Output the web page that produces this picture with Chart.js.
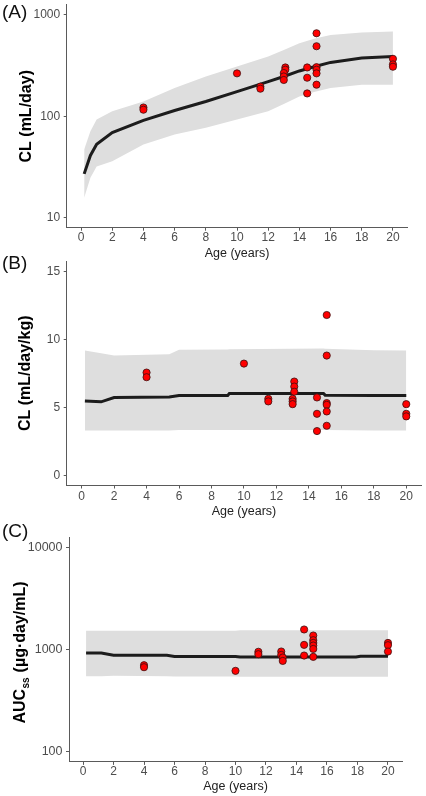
<!DOCTYPE html>
<html>
<head>
<meta charset="utf-8">
<script src="https://cdn.jsdelivr.net/npm/chart.js@4.4.1/dist/chart.umd.min.js"></script>
<style>
    body { margin: 0; background: #fff; }
    #page { position: relative; width: 426px; height: 796px; overflow: hidden; }
    .panel { position: absolute; left: 0; }
    .tag { position: absolute; left: 2px; font: 19px 'Liberation Sans', Arial, sans-serif; color: #111; }
</style>
</head>
<body>
<div id="page">
    <canvas id="chartA" class="panel" width="426" height="262" style="top:0px"></canvas>
    <canvas id="chartB" class="panel" width="426" height="270" style="top:250px"></canvas>
    <canvas id="chartC" class="panel" width="426" height="276" style="top:520px"></canvas>
    <div class="tag" style="top:1px">(A)</div>
    <div class="tag" style="top:252px">(B)</div>
    <div class="tag" style="top:520px">(C)</div>
</div>
<script>
// x ticks shared by all panels
const ageTicks = [0, 2, 4, 6, 8, 10, 12, 14, 16, 18, 20];

// (A) CL mL/day
const ageA = [0.2, 0.6, 1, 2, 4, 6, 8, 10, 12, 13, 14, 15, 16, 18, 20];
const medianA = [27, 41, 53, 69, 91, 114, 140, 175, 220, 247, 280, 310, 340, 375, 389];
const upperA = [47, 71, 93, 112, 140, 190, 247, 309, 389, 450, 525, 585, 635, 670, 685];
const lowerA = [15.7, 24.7, 32, 36, 52.5, 66, 77, 93, 112, 132, 157, 175, 190, 205, 205];
const obsAgeA = [4, 4, 10, 11.5, 11.5, 13.1, 13.1, 13, 13, 13, 14.5, 14.5, 14.5, 15.1, 15.1, 15.1, 15.1, 15.1, 15.1, 20, 20, 20];
const obsA = [122, 116, 265, 196, 187, 303, 288, 267, 247, 228, 303, 240, 168, 659, 491, 305, 288, 265, 205, 369, 325, 308];
const yTicksA = [10, 100, 1000];

// (B) CL mL/day/kg
const ageB = [0.2, 1.2, 2, 5.4, 6, 9, 9.1, 14.9, 15, 18, 20];
const medianB = [5.46, 5.40, 5.72, 5.75, 5.87, 5.87, 6.01, 6.01, 5.89, 5.87, 5.87];
const upperB = [9.17, 8.97, 8.80, 8.90, 9.22, 9.25, 9.27, 9.32, 9.30, 9.19, 9.17];
const lowerB = [3.30, 3.30, 3.30, 3.30, 3.32, 3.32, 3.32, 3.32, 3.32, 3.30, 3.30];
const obsAgeB = [4, 4, 10, 11.5, 11.5, 13.1, 13.1, 13.1, 13, 13, 13, 14.5, 14.5, 14.5, 15.1, 15.1, 15.1, 15.1, 15.1, 15.1, 20, 20, 20];
const obsB = [7.55, 7.21, 8.21, 5.62, 5.43, 6.89, 6.52, 6.14, 5.62, 5.43, 5.23, 5.72, 4.52, 3.25, 11.78, 8.80, 5.31, 5.18, 4.69, 3.64, 5.23, 4.52, 4.33];
const yTicksB = [0, 5, 10, 15];

// (C) AUCss
const ageC = [0.2, 1.2, 2, 5.5, 6, 10, 10.3, 17.9, 18.2, 20];
const medianC = [926, 926, 880, 880, 856, 856, 843, 843, 858, 858];
const upperC = [1525, 1525, 1525, 1525, 1525, 1525, 1545, 1545, 1545, 1545];
const lowerC = [548, 548, 552, 548, 545, 545, 540, 540, 540, 540];
const obsAgeC = [4, 4, 10, 11.5, 11.5, 13, 13, 13.1, 13.1, 14.5, 14.5, 14.5, 15.1, 15.1, 15.1, 15.1, 15.1, 15.1, 20, 20, 20];
const obsC = [702, 671, 618, 950, 900, 956, 885, 835, 773, 1570, 1110, 873, 1371, 1233, 1160, 1094, 1013, 847, 1160, 1102, 955];
const yTicksC = [100, 1000, 10000];

Chart.defaults.font.family = "'Liberation Sans', Arial, sans-serif";
Chart.defaults.animation = false;

const axisColor = '#5a5a5a';
const bandColor = '#dedede';

function pts(xs, ys) {
    return xs.map((x, i) => ({ x: x, y: ys[i] }));
}

// ggplot style AUC with subscript, drawn as the y title of panel C
const aucTitle = {
    id: 'aucTitle',
    afterDraw(chart) {
        const ctx = chart.ctx;
        const area = chart.chartArea;
        const big = "bold 16px 'Liberation Sans', Arial, sans-serif";
        const small = "bold 10px 'Liberation Sans', Arial, sans-serif";
        ctx.save();
        ctx.font = big;
        const w1 = ctx.measureText('AUC').width;
        const w3 = ctx.measureText(' (µg·day/mL)').width;
        ctx.font = small;
        const w2 = ctx.measureText('ss').width + 1;
        const total = w1 + w2 + w3;
        ctx.translate(21, (area.top + area.bottom) / 2 + 3);
        ctx.rotate(-Math.PI / 2);
        ctx.fillStyle = '#000';
        ctx.textBaseline = 'middle';
        ctx.textAlign = 'left';
        let x = -total / 2;
        ctx.font = big;
        ctx.fillText('AUC', x, 0);
        x += w1 + 0.5;
        ctx.font = small;
        ctx.fillText('ss', x, 5);
        x += w2 - 0.5;
        ctx.font = big;
        ctx.fillText(' (µg·day/mL)', x, 0);
        ctx.restore();
    }
};

function makePanel(id, cfg) {
    const ctx = document.getElementById(id).getContext('2d');
    return new Chart(ctx, {
        type: 'scatter',
        data: {
            datasets: [
                {
                    data: pts(cfg.obsAge, cfg.obs),
                    backgroundColor: '#ff0000',
                    borderColor: '#3a1010',
                    borderWidth: 0.8,
                    pointRadius: 3.6,
                    order: 0
                },
                {
                    data: pts(cfg.age, cfg.median),
                    showLine: true,
                    borderColor: '#1c1c1c',
                    borderWidth: 3,
                    pointRadius: 0,
                    fill: false,
                    order: 1
                },
                {
                    data: pts(cfg.age, cfg.upper),
                    showLine: true,
                    borderWidth: 0,
                    borderColor: 'rgba(0,0,0,0)',
                    backgroundColor: bandColor,
                    pointRadius: 0,
                    fill: '+1',
                    order: 2
                },
                {
                    data: pts(cfg.age, cfg.lower),
                    showLine: true,
                    borderWidth: 0,
                    borderColor: 'rgba(0,0,0,0)',
                    pointRadius: 0,
                    fill: false,
                    order: 3
                }
            ]
        },
        options: {
            responsive: false,
            layout: { padding: cfg.padding },
            plugins: {
                legend: { display: false },
                tooltip: { enabled: false }
            },
            scales: {
                x: {
                    type: 'linear',
                    min: -0.92,
                    max: 20.92,
                    border: { display: true, color: axisColor, width: 1 },
                    grid: { drawOnChartArea: false, drawTicks: true, tickLength: 3, color: axisColor },
                    ticks: { color: '#4d4d4d', font: { size: 12 }, padding: cfg.xTickPad, maxRotation: 0 },
                    afterBuildTicks: scale => { scale.ticks = ageTicks.map(v => ({ value: v })); },
                    afterFit: scale => {
                        scale.height = cfg.xHeight;
                        scale.paddingLeft = 0;
                        scale.paddingRight = 0;
                    },
                    title: {
                        display: true,
                        text: 'Age (years)',
                        color: '#222',
                        font: { size: 12.5 },
                        padding: { top: 0, bottom: cfg.xTitlePad }
                    }
                },
                y: {
                    type: cfg.yType,
                    min: cfg.yMin,
                    max: cfg.yMax,
                    border: { display: true, color: axisColor, width: 1 },
                    grid: { drawOnChartArea: false, drawTicks: true, tickLength: 3, color: axisColor },
                    ticks: {
                        color: '#4d4d4d',
                        font: { size: cfg.yTickSize },
                        padding: 3.5,
                        callback: v => String(v)
                    },
                    afterBuildTicks: scale => { scale.ticks = cfg.yTicks.map(v => ({ value: v })); },
                    afterFit: scale => {
                        scale.width = cfg.yWidth;
                        scale.paddingTop = 0;
                        scale.paddingBottom = 0;
                    },
                    title: {
                        display: cfg.yTitle !== null,
                        text: cfg.yTitle || '',
                        color: '#000',
                        font: { size: 16, weight: 'bold' },
                        padding: { top: cfg.yTitlePad, bottom: 0 }
                    }
                }
            }
        },
        plugins: cfg.extra ? [cfg.extra] : []
    });
}

makePanel('chartA', {
    age: ageA, median: medianA, upper: upperA, lower: lowerA,
    obsAge: obsAgeA, obs: obsA, yTicks: yTicksA,
    yType: 'logarithmic', yMin: Math.pow(10, 0.9), yMax: Math.pow(10, 3.1),
    yTitle: 'CL (mL/day)', yTitlePad: 17, yTickSize: 12,
    padding: { top: 3, right: 18.7, bottom: 0, left: 0 },
    yWidth: 66.7, xHeight: 34.3, xTickPad: 0, xTitlePad: 1.2
});

makePanel('chartB', {
    age: ageB, median: medianB, upper: upperB, lower: lowerB,
    obsAge: obsAgeB, obs: obsB, yTicks: yTicksB,
    yType: 'linear', yMin: -0.75, yMax: 15.75,
    yTitle: 'CL (mL/day/kg)', yTitlePad: 16, yTickSize: 12,
    padding: { top: 11, right: 4.4, bottom: 0, left: 0 },
    yWidth: 66.7, xHeight: 34.5, xTickPad: 1, xTitlePad: 0.8
});

makePanel('chartC', {
    age: ageC, median: medianC, upper: upperC, lower: lowerC,
    obsAge: obsAgeC, obs: obsC, yTicks: yTicksC,
    yType: 'logarithmic', yMin: Math.pow(10, 1.9), yMax: Math.pow(10, 4.1),
    yTitle: null, yTitlePad: 0, yTickSize: 12.5,
    padding: { top: 17.1, right: 24, bottom: 0, left: 0 },
    yWidth: 69, xHeight: 34.1, xTickPad: 0, xTitlePad: 1.8,
    extra: aucTitle
});
</script>
</body>
</html>
